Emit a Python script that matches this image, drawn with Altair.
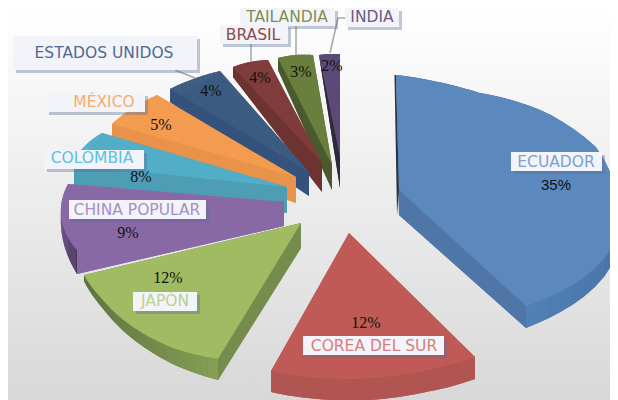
import numpy as np
import pandas as pd
import altair as alt

# ---- chart values ----
COUNTRIES = ["INDIA", "TAILANDIA", "BRASIL", "ESTADOS UNIDOS", "MÉXICO", "COLOMBIA", "CHINA POPULAR", "JAPÓN", "COREA DEL SUR", "ECUADOR"]
SHARES = ["2%", "3%", "4%", "4%", "5%", "8%", "9%", "12%", "12%", "35%"]

# ---- styles ----
TOP = ["#5b4a75", "#6a7f3e", "#7f3c3a", "#3e5c81", "#f49c4f", "#53b0ca", "#8869a5", "#a0bb62", "#c05a57", "#5b88bd"]
WALL = ["#2c2a3c", "#4a5a2e", "#6c3331", "#35527c", "#e8924a", "#4d9db5", "#8869a5", "#768c4c", "#b15552", "#4f76a6"]
STRIP_FROM = ["#2c2a3c", "#4a5a2e", "#6c3331", "#35527c", "#e8924a", "#4d9db5", "#8869a5", "#84a055", "#b15552", "#2f4a6b"]
STRIP_TO = ["#2c2a3c", "#4a5a2e", "#6c3331", "#35527c", "#e8924a", "#4d9db5", "#4a3a5c", "#5d7040", "#b15552", "#5080b5"]
TOP_ALPHA = [1, 1, 1, .88, .88, .88, .88, 1, 1, 1]
TEXT = ["#6a5b85", "#7c8f55", "#8a4a4a", "#4f6a8f", "#f7ab6e", "#5cc0e0", "#a78fc4", "#bcd08e", "#d87f7c", "#7ba0d0"]

# ---- perspective layout of each slice (picture space) ----
APEX = [(340, 157), (332, 165), (322, 163), (309, 172), (296, 177), (287, 187), (284, 202), (301, 223), (349, 233), (399, 190)]
ARC_A = [(340, 54), (313, 55), (268, 60), (220, 71), (157, 95), (102, 133), (68, 184), (218, 359), (475, 357), (396, 75)]
ARC_Z = [(319, 55), (278, 58), (233, 67), (170, 89), (112, 124), (74, 165), (77, 250), (84, 275), (271, 371), (526, 306)]
ARC_VIA = [
    [(330, 54)], [(296, 55)], [(250, 62)], [(196, 78)],
    [(133, 108)], [(84, 147)], [(61, 215)],
    [(173, 348), (133, 327), (103, 300)],
    [(427, 370), (360, 379), (293, 375)],
    [(480, 93), (547, 113), (597, 148), (615, 190), (618, 215), (612, 247), (580, 280)],
]
DEPTH_APEX = [31, 25, 29, 24, 26, 26, 24, 25, 0, 25]
DEPTH_A = [0, 0, 0, 0, 0, 0, 0, 21, 22, 0]
DEPTH_Z = [0, 12, 10, 13, 13, 22, 24, 6, 21, 22]

LABEL_BOX = [(345, 8, 399, 27), (240, 2, 335, 26), (220, 25, 288, 44), (13, 36, 197, 70), (46, 93, 145, 112),
             (44, 150, 144, 169), (69, 200, 206, 219), (133, 292, 197, 311), (303, 336, 444, 355), (511, 152, 602, 171)]
LABEL_AT = [(372, 17), (287, 17), (253, 35), (104, 53), (104, 102), (92, 158), (137, 210), (165, 301), (374, 346), (556, 162)]
SHARE_AT = [(332, 66), (301, 72), (260, 78), (211, 91), (161, 125), (141, 177), (128, 233), (168, 278), (366, 323), (556, 185)]
LEADERS = [[(330, 53), (338, 18), (345, 18)], [(296, 21), (296, 55)], [(251, 44), (251, 62)], [(175, 70), (195, 78)]]

def mix(c1, c2, t):
    a = [int(c1[i:i + 2], 16) for i in (1, 3, 5)]
    b = [int(c2[i:i + 2], 16) for i in (1, 3, 5)]
    return "#" + "".join(f"{round(x + (y - x) * t):02x}" for x, y in zip(a, b))

def arc_points(k, n=40):
    """Arc around the apex: a conic fitted to the read points, corrected so it passes through them."""
    apex = np.array(APEX[k], float)
    pts = np.array([ARC_A[k], *ARC_VIA[k], ARC_Z[k]], float) - apex
    M = np.c_[pts[:, 0] ** 2, pts[:, 0] * pts[:, 1], pts[:, 1] ** 2]
    coef = np.linalg.lstsq(M, np.ones(len(pts)), rcond=None)[0]

    def conic(f):
        c, s = np.cos(f), np.sin(f)
        return 1 / np.sqrt(np.maximum(coef[0] * c * c + coef[1] * c * s + coef[2] * s * s, 1e-9))

    ang = np.arctan2(pts[:, 1], pts[:, 0])
    sign = np.sign(((ang[-1] - ang[0] + np.pi) % (2 * np.pi)) - np.pi)
    rel = ((ang - ang[0]) * sign) % (2 * np.pi)
    order = np.argsort(rel)
    resid = np.hypot(pts[:, 0], pts[:, 1]) - conic(ang)
    t = np.linspace(rel[order[0]], rel[order[-1]], n)
    f = ang[0] + sign * t
    r = conic(f) + np.interp(t, rel[order], resid[order])
    return np.c_[apex[0] + r * np.cos(f), apex[1] + r * np.sin(f)]

rows = []
shape_no = [0]

def add(poly, fill, alpha=1.0):
    shape_no[0] += 1
    for i, (x, y) in enumerate(poly):
        rows.append(dict(shape=f"s{shape_no[0]:04d}", seq=i, x=float(x), y=float(y), fill=fill, alpha=alpha))

for k in range(len(COUNTRIES)):
    ax, ay = APEX[k]
    arc = arc_points(k)
    n = len(arc)
    depth = np.linspace(DEPTH_A[k], DEPTH_Z[k], n)
    low = arc + np.c_[np.zeros(n), depth]
    ab = (ax, ay + DEPTH_APEX[k])
    add([ab, *low], WALL[k])
    add([(ax, ay), tuple(arc[0]), tuple(low[0]), ab], WALL[k])
    add([(ax, ay), tuple(arc[-1]), tuple(low[-1]), ab], WALL[k])
    for i in range(n - 1):
        col = mix(STRIP_FROM[k], STRIP_TO[k], i / (n - 2))
        add([tuple(arc[i]), tuple(arc[i + 1]), tuple(low[i + 1]), tuple(low[i])], col)
    if k == 9:
        add([(ax, ay), tuple(arc[0]), (arc[0][0] - 1.5, arc[0][1]), (ax - 2, ay + 25)], "#2a3444")
    add([(ax, ay), *arc], TOP[k], TOP_ALPHA[k])

poly_df = pd.DataFrame(rows)

XS = alt.Scale(domain=[8, 610], nice=False, zero=False)
YS = alt.Scale(domain=[400, 8], nice=False, zero=False)
X = alt.X("x:Q", scale=XS, axis=None)
Y = alt.Y("y:Q", scale=YS, axis=None)

bg_df = pd.DataFrame([dict(x=8, x2=610, y=8, y2=400)])
background = alt.Chart(bg_df).mark_rect(
    color=alt.Gradient(gradient="linear", x1=0, x2=0, y1=0, y2=1,
                       stops=[alt.GradientStop(offset=0, color="#ffffff"),
                              alt.GradientStop(offset=1, color="#d8d8d8")])
).encode(x=X, x2="x2:Q", y=Y, y2="y2:Q")

slices = alt.Chart(poly_df).mark_line(filled=True, strokeWidth=0, clip=True, interpolate="linear-closed").encode(
    x=X, y=Y,
    detail="shape:N",
    order="seq:Q",
    fill=alt.Fill("fill:N", scale=None),
    opacity=alt.Opacity("alpha:Q", scale=None),
)

leader_df = pd.DataFrame([dict(line=i, seq=j, x=p[0], y=p[1]) for i, l in enumerate(LEADERS) for j, p in enumerate(l)])
leaders = alt.Chart(leader_df).mark_line(color="#a6a6a6", strokeWidth=1.5).encode(x=X, y=Y, detail="line:N", order="seq:Q")

box_df = pd.DataFrame([dict(name=c, x=b[0], y=max(b[1], 8), x2=b[2], y2=b[3], sx=b[0] + 3, sy=max(b[1], 8) + 3, sx2=b[2] + 3, sy2=b[3] + 3)
                       for c, b in zip(COUNTRIES, LABEL_BOX)])
shadows = alt.Chart(box_df).mark_rect(color="#5a6f96", opacity=.38).encode(
    x=alt.X("sx:Q", scale=XS, axis=None), x2="sx2:Q", y=alt.Y("sy:Q", scale=YS, axis=None), y2="sy2:Q")
boxes = alt.Chart(box_df).mark_rect(color="#f3f4f9").encode(x=X, x2="x2:Q", y=Y, y2="y2:Q")

name_df = pd.DataFrame([dict(name=c, x=p[0], y=p[1], col=t) for c, p, t in zip(COUNTRIES, LABEL_AT, TEXT)])
names = alt.Chart(name_df).mark_text(font="DejaVu Sans", fontSize=15.5, align="center", baseline="middle").encode(
    x=X, y=Y, text="name:N", color=alt.Color("col:N", scale=None))

share_df = pd.DataFrame([dict(row=i, v=s, x=p[0], y=p[1]) for i, (s, p) in enumerate(zip(SHARES, SHARE_AT))])
shares = alt.Chart(share_df[share_df.v != "35%"]).mark_text(font="Liberation Serif", fontSize=16, color="#111111", align="center", baseline="middle").encode(
    x=X, y=Y, text="v:N")
share_main = alt.Chart(share_df[share_df.v == "35%"]).mark_text(font="Liberation Sans", fontSize=15, color="#111111", align="center", baseline="middle").encode(
    x=X, y=Y, text="v:N")

chart = alt.layer(background, slices, leaders, shadows, boxes, names, shares, share_main).properties(
    width=602, height=392, padding=0, autosize=alt.AutoSizeParams(type="none")
).configure_view(stroke=None)

chart.save("out.html", embed_options={"renderer": "svg", "actions": False})
